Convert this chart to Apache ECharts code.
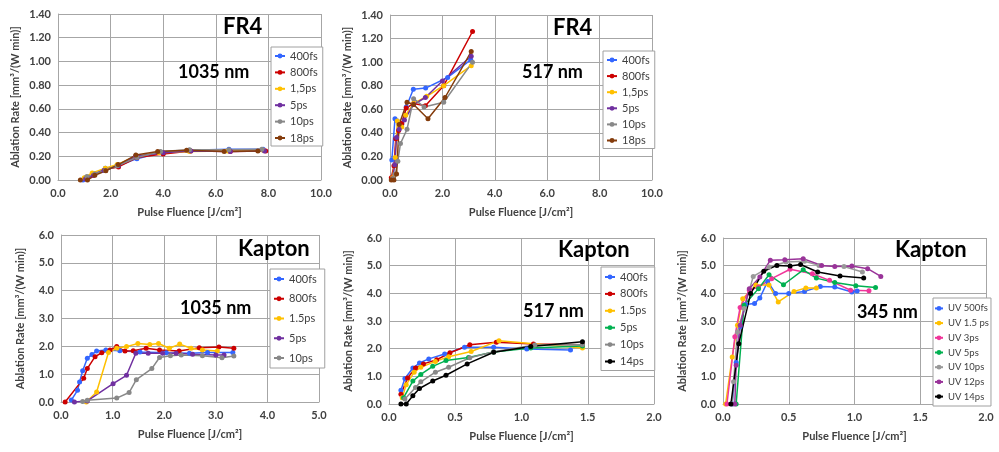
<!DOCTYPE html>
<html>
<head>
<meta charset="utf-8">
<script src="https://cdn.jsdelivr.net/npm/echarts@6/dist/echarts.min.js"></script>
<style>
  html, body { margin: 0; padding: 0; background: #fff; }
  #chart { width: 999px; height: 452px; }
</style>
</head>
<body>
<div id="chart"></div>
<script>
// FR4, 1035 nm
const fr4Ir400fs = [[0.95,0.00],[1.05,0.02],[1.35,0.05],[1.8,0.10],[2.3,0.12],[3.0,0.18],[3.9,0.23],[5.0,0.25],[6.5,0.26],[7.8,0.26]];
const fr4Ir800fs = [[1.05,0.01],[1.35,0.04],[1.8,0.09],[2.3,0.11],[3.0,0.19],[4.0,0.22],[5.05,0.245],[6.55,0.24],[7.9,0.245]];
const fr4Ir1p5ps = [[1.0,0.02],[1.3,0.06],[1.8,0.10],[2.25,0.13],[2.95,0.20],[3.85,0.23],[5.0,0.24],[6.45,0.245],[7.8,0.25]];
const fr4Ir5ps = [[1.05,0.01],[1.35,0.04],[1.75,0.08],[2.3,0.12],[2.95,0.20],[4.0,0.23],[5.05,0.245],[6.55,0.24],[7.85,0.245]];
const fr4Ir10ps = [[1.1,0.03],[1.4,0.05],[1.8,0.08],[2.25,0.12],[3.0,0.19],[3.9,0.24],[5.0,0.255],[6.5,0.255],[7.75,0.26]];
const fr4Ir18ps = [[0.85,0.00],[1.12,0.00],[1.4,0.04],[1.82,0.077],[2.29,0.13],[2.96,0.21],[3.79,0.24],[4.89,0.25],[6.32,0.24],[7.6,0.245]];

// FR4, 517 nm
const fr4Gr400fs = [[0.07,0.17],[0.19,0.52],[0.28,0.50],[0.45,0.47],[0.62,0.62],[0.89,0.77],[1.36,0.78],[2.2,0.87],[3.08,1.02]];
const fr4Gr800fs = [[0.05,0.02],[0.15,0.12],[0.22,0.35],[0.33,0.42],[0.45,0.48],[0.62,0.61],[0.9,0.65],[1.35,0.63],[2.05,0.80],[3.15,1.26]];
const fr4Gr1p5ps = [[0.1,0.02],[0.2,0.19],[0.28,0.50],[0.45,0.45],[0.6,0.55],[0.9,0.65],[1.4,0.71],[2.05,0.80],[3.1,0.97]];
const fr4Gr5ps = [[0.1,0.01],[0.18,0.13],[0.25,0.36],[0.35,0.43],[0.55,0.51],[0.9,0.64],[1.35,0.70],[2.0,0.84],[3.1,1.05]];
const fr4Gr10ps = [[0.12,0.01],[0.2,0.05],[0.3,0.16],[0.4,0.31],[0.65,0.43],[0.9,0.69],[1.3,0.62],[2.05,0.66],[3.15,1.00]];
const fr4Gr18ps = [[0.05,0.00],[0.15,0.00],[0.25,0.05],[0.35,0.47],[0.65,0.66],[0.9,0.64],[1.45,0.52],[2.1,0.70],[3.1,1.09]];

// Kapton, 1035 nm
const kapIr400fs = [[0.2,0.07],[0.32,0.42],[0.36,0.72],[0.42,1.12],[0.51,1.57],[0.6,1.71],[0.69,1.83],[0.87,1.87],[1.14,1.84],[1.53,1.80],[2.04,1.77],[2.49,1.75],[2.84,1.78],[3.33,1.78]];
const kapIr800fs = [[0.08,0.00],[0.44,0.85],[0.51,1.20],[0.66,1.63],[0.79,1.77],[0.95,1.87],[1.08,1.99],[1.24,1.83],[1.4,1.84],[1.65,1.93],[1.91,1.87],[2.29,1.83],[2.68,1.95],[3.06,1.98],[3.35,1.93]];
const kapIr1p5ps = [[0.49,0.00],[0.69,0.36],[0.92,1.78],[1.08,1.93],[1.27,1.99],[1.49,2.10],[1.72,2.07],[1.89,2.10],[2.1,1.93],[2.3,2.08],[2.52,1.93],[2.74,1.87],[3.03,1.83]];
const kapIr5ps = [[0.26,0.00],[0.51,0.04],[1.01,0.66],[1.27,0.96],[1.45,1.75],[1.69,1.75],[1.97,1.75],[2.23,1.75],[2.55,1.72],[3.0,1.69],[3.16,1.69]];
const kapIr10ps = [[0.42,0.02],[0.51,0.06],[1.08,0.14],[1.32,0.34],[1.46,0.80],[1.76,1.20],[1.91,1.60],[2.12,1.66],[2.33,1.69],[2.74,1.66],[3.12,1.59],[3.35,1.65]];

// Kapton, 517 nm
const kapGr400fs = [[0.09,0.50],[0.12,0.92],[0.18,1.30],[0.23,1.48],[0.3,1.63],[0.42,1.81],[0.57,2.05],[0.79,2.05],[1.04,1.99],[1.37,1.95]];
const kapGr800fs = [[0.09,0.35],[0.14,0.94],[0.2,1.30],[0.26,1.45],[0.36,1.60],[0.46,1.85],[0.61,2.14],[0.81,2.23],[1.09,2.17],[1.46,2.14]];
const kapGr1p5ps = [[0.1,0.23],[0.13,0.70],[0.19,1.15],[0.24,1.33],[0.35,1.54],[0.45,1.71],[0.62,1.90],[0.83,2.29],[1.46,2.02]];
const kapGr5ps = [[0.11,0.23],[0.18,0.83],[0.24,1.07],[0.33,1.36],[0.43,1.57],[0.6,1.68],[0.79,1.88],[1.07,2.02],[1.46,2.10]];
const kapGr10ps = [[0.12,0.18],[0.2,0.60],[0.24,0.80],[0.35,1.15],[0.45,1.33],[0.61,1.67],[0.79,1.89],[1.1,2.13],[1.46,2.14]];
const kapGr14ps = [[0.09,0.00],[0.13,0.00],[0.18,0.30],[0.23,0.56],[0.33,0.83],[0.43,1.04],[0.59,1.45],[0.79,1.87],[1.07,2.08],[1.46,2.25]];

// Kapton, 345 nm
const kapUv500fs = [[0.07,0.00],[0.1,1.50],[0.13,2.80],[0.17,3.60],[0.24,3.63],[0.28,3.83],[0.34,4.43],[0.4,3.99],[0.5,3.99],[0.62,4.07],[0.74,4.25],[0.85,4.23],[0.98,4.05],[1.02,4.08]];
const kapUv1p5ps = [[0.02,0.00],[0.07,1.70],[0.11,2.85],[0.15,3.80],[0.25,4.30],[0.35,4.30],[0.42,3.69],[0.54,4.07],[0.63,4.19],[0.71,4.19]];
const kapUv3ps = [[0.03,0.00],[0.09,2.43],[0.13,3.49],[0.2,4.11],[0.27,4.23],[0.37,4.53],[0.51,4.87],[0.68,4.71],[0.81,4.47],[0.97,4.11],[1.11,4.09]];
const kapUv5ps = [[0.1,0.00],[0.16,3.57],[0.27,4.17],[0.35,4.67],[0.46,4.31],[0.61,4.85],[0.71,4.55],[0.85,4.39],[1.01,4.27],[1.16,4.21]];
const kapUv10ps = [[0.07,0.00],[0.08,0.80],[0.11,2.60],[0.16,3.45],[0.23,4.61],[0.35,4.95],[0.48,5.13],[0.62,5.16],[0.73,5.01],[0.92,4.97],[1.06,4.77]];
const kapUv12ps = [[0.09,0.00],[0.1,1.40],[0.13,2.85],[0.2,4.17],[0.28,4.59],[0.36,5.20],[0.47,5.21],[0.61,5.25],[0.75,5.01],[0.85,4.97],[0.98,4.99],[1.1,4.89],[1.2,4.61]];
const kapUv14ps = [[0.06,0.00],[0.12,2.18],[0.21,3.99],[0.31,4.80],[0.41,5.01],[0.51,4.99],[0.59,5.04],[0.72,4.77],[0.89,4.63],[1.07,4.55]];

const labelsFr4 = ['400fs', '800fs', '1,5ps', '5ps', '10ps', '18ps'];
const labelsKapIr = ['400fs', '800fs', '1.5ps', '5ps', '10ps'];
const labelsKapGr = ['400fs', '800fs', '1.5ps', '5ps', '10ps', '14ps'];
const labelsKapUv = ['UV 500fs', 'UV 1.5 ps', 'UV 3ps', 'UV 5ps', 'UV 10ps', 'UV 12ps', 'UV 14ps'];

const colorsFr4 = ['#3366ff', '#cc0000', '#ffc000', '#7030a0', '#888888', '#843c0c'];
const colorsKapIr = ['#3366ff', '#cc0000', '#ffc000', '#7030a0', '#888888'];
const colorsKapGr = ['#3366ff', '#cc0000', '#ffc000', '#00b050', '#888888', '#000000'];
const colorsKapUv = ['#3366ff', '#ffc000', '#f0359a', '#00b050', '#999999', '#993399', '#000000'];

const fontFam = 'Lato, "Open Sans", sans-serif';
const gridColor = '#a6a6a6';

const panels = [
  { grid: { left: 58, top: 14, width: 263, height: 166 }, xMax: 10, xInt: 2, yMax: 1.4, yInt: 0.2, yDec: 2, yGap: 37,
    labels: labelsFr4, colors: colorsFr4, data: [fr4Ir400fs, fr4Ir800fs, fr4Ir1p5ps, fr4Ir5ps, fr4Ir10ps, fr4Ir18ps],
    legend: { left: 271, top: 47, padding: [3, 5, 2, 3], itemGap: 4.4, fontSize: 11, lh: 12, iw: 10 } },
  { grid: { left: 390, top: 15, width: 262, height: 165 }, xMax: 10, xInt: 2, yMax: 1.4, yInt: 0.2, yDec: 2, yGap: 37,
    labels: labelsFr4, colors: colorsFr4, data: [fr4Gr400fs, fr4Gr800fs, fr4Gr1p5ps, fr4Gr5ps, fr4Gr10ps, fr4Gr18ps],
    legend: { left: 603, top: 51, padding: [3, 5, 2, 3], itemGap: 4.1, fontSize: 11, lh: 12, iw: 10 } },
  { grid: { left: 61, top: 235, width: 258, height: 167 }, xMax: 5, xInt: 1, yMax: 6, yInt: 1, yDec: 1, yGap: 35,
    labels: labelsKapIr, colors: colorsKapIr, data: [kapIr400fs, kapIr800fs, kapIr1p5ps, kapIr5ps, kapIr10ps],
    legend: { left: 270, top: 269, padding: [4, 8, 4, 3], itemGap: 7.75, fontSize: 11, lh: 12, iw: 10 } },
  { grid: { left: 389, top: 238, width: 265, height: 166 }, xMax: 2, xInt: 0.5, yMax: 6, yInt: 1, yDec: 1, yGap: 35,
    labels: labelsKapGr, colors: colorsKapGr, data: [kapGr400fs, kapGr800fs, kapGr1p5ps, kapGr5ps, kapGr10ps, kapGr14ps],
    legend: { left: 601, top: 267, padding: [4, 7, 3, 3], itemGap: 4.9, fontSize: 11, lh: 12, iw: 10 } },
  { grid: { left: 723, top: 238, width: 263, height: 166 }, xMax: 2, xInt: 0.5, yMax: 6, yInt: 1, yDec: 1, yGap: 35,
    labels: labelsKapUv, colors: colorsKapUv, data: [kapUv500fs, kapUv1p5ps, kapUv3ps, kapUv5ps, kapUv10ps, kapUv12ps, kapUv14ps],
    legend: { left: 933, top: 298, padding: [5, 2, 4, 1], itemGap: 3.9, fontSize: 9.5, lh: 10.8, iw: 8 } }
];

const grids = [];
const xAxes = [];
const yAxes = [];
const legends = [];
const series = [];

panels.forEach((p, i) => {
  grids.push(p.grid);
  xAxes.push({
    type: 'value', gridIndex: i, min: 0, max: p.xMax, interval: p.xInt,
    name: 'Pulse Fluence [J/cm²]', nameLocation: 'middle', nameGap: 27,
    nameTextStyle: { fontFamily: fontFam, fontWeight: 'bold', fontSize: 11, color: '#404040' },
    axisLine: { show: true, onZero: false, lineStyle: { color: gridColor } },
    axisTick: { show: false },
    axisLabel: { margin: 8, fontFamily: fontFam, fontWeight: 'bold', fontSize: 11, color: '#404040',
      formatter: v => v.toFixed(1) },
    splitLine: { show: true, lineStyle: { color: gridColor } }
  });
  yAxes.push({
    type: 'value', gridIndex: i, min: 0, max: p.yMax, interval: p.yInt,
    name: 'Ablation Rate [mm³/(W min)]', nameLocation: 'middle', nameGap: p.yGap,
    nameTextStyle: { fontFamily: fontFam, fontWeight: 'bold', fontSize: 11, color: '#404040' },
    axisLine: { show: true, onZero: false, lineStyle: { color: gridColor } },
    axisTick: { show: false },
    axisLabel: { margin: 7, fontFamily: fontFam, fontWeight: 'bold', fontSize: 11, color: '#404040',
      formatter: v => v.toFixed(p.yDec) },
    splitLine: { show: true, lineStyle: { color: gridColor } }
  });
  const names = p.labels.map(l => l + '|' + i);
  legends.push({
    data: names, orient: 'vertical', left: p.legend.left, top: p.legend.top,
    padding: p.legend.padding, itemGap: p.legend.itemGap, itemWidth: p.legend.iw, itemHeight: 6,
    borderColor: '#a0a0a0', borderWidth: 1, backgroundColor: '#fff',
    formatter: n => n.split('|')[0],
    textStyle: { fontFamily: fontFam, fontSize: p.legend.fontSize, lineHeight: p.legend.lh, color: '#404040' }
  });
  p.data.forEach((d, k) => {
    series.push({
      name: names[k], type: 'line', xAxisIndex: i, yAxisIndex: i, data: d,
      symbol: 'circle', symbolSize: 5, color: p.colors[k],
      lineStyle: { width: 1.5, color: p.colors[k] },
      itemStyle: { color: p.colors[k] },
      emphasis: { disabled: true }
    });
  });
});

const titleTexts = [
  ['FR4', 223, 27, 22], ['1035 nm', 178, 72, 18],
  ['FR4', 553, 28, 22], ['517 nm', 522, 72, 18],
  ['Kapton', 238, 249, 22], ['1035 nm', 180, 308, 18],
  ['Kapton', 558, 250, 22], ['517 nm', 523, 311, 18],
  ['Kapton', 895, 250, 22], ['345 nm', 857, 312, 18]
];

const graphics = titleTexts.map(t => ({
  type: 'text', x: t[1], y: t[2], z: 100,
  style: {
    text: t[0], textAlign: 'left', textVerticalAlign: 'middle',
    font: 'bold ' + t[3] + 'px ' + fontFam, fill: '#000',
    shadowColor: 'rgba(0,0,0,0.35)', shadowBlur: 2, shadowOffsetX: 1, shadowOffsetY: 1
  }
}));

const chart = echarts.init(document.getElementById('chart'));
chart.setOption({
  animation: false,
  backgroundColor: '#fff',
  grid: grids,
  xAxis: xAxes,
  yAxis: yAxes,
  legend: legends,
  series: series,
  graphic: graphics
});
</script>
</body>
</html>
